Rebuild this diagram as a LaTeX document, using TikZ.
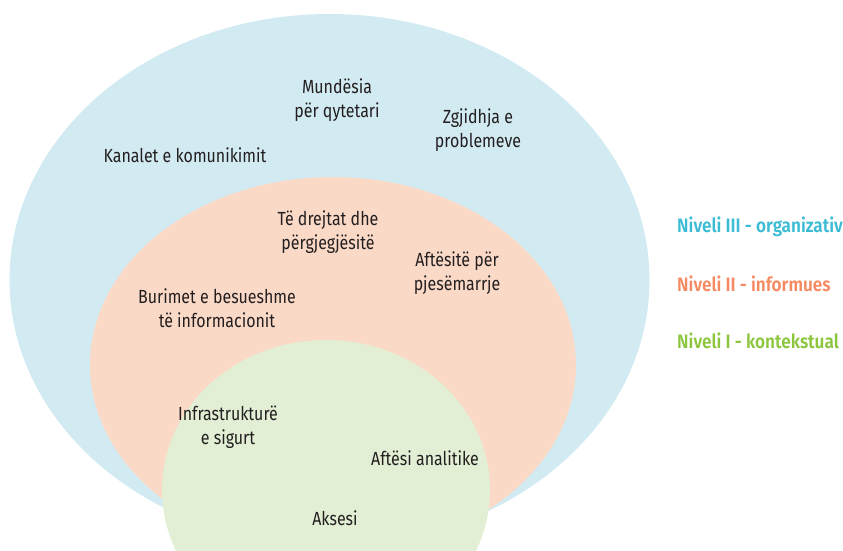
\documentclass[tikz,border=0pt]{standalone}
\usepackage{fontspec}
\setmainfont[FakeStretch=0.84]{Fira Sans}
\newfontfamily\lblfont[FakeStretch=0.88]{Fira Sans SemiBold}
\definecolor{blueF}{HTML}{D2EBF2}
\definecolor{pinkF}{HTML}{FBD9C7}
\definecolor{greenF}{HTML}{E2EFD5}
\definecolor{blueT}{HTML}{3BBCD4}
\definecolor{pinkT}{HTML}{F58A62}
\definecolor{greenT}{HTML}{8CC63F}
\definecolor{txt}{HTML}{231F20}
\tikzset{
  itm/.style={align=center, text=txt, font=\fontsize{19}{24}\selectfont, inner sep=0pt},
  lvl/.style={anchor=west, font=\lblfont\fontsize{19.5}{22}\selectfont, inner sep=0pt}
}
\begin{document}
\begin{tikzpicture}[x=1pt,y=-1pt]
\useasboundingbox (0,0) rectangle (843,550);
\begin{scope}
\clip (0,0) rectangle (843,550);
\fill[blueF] (329.5,280) ellipse [x radius=320, y radius=266];
\fill[pinkF] (333,365) ellipse [x radius=243, y radius=188];
\fill[greenF] (326,490) ellipse [x radius=164, y radius=150];
\end{scope}
\node[itm] (mun) at (337,100) {Mundësia\\për qytetari};
\node[itm] (zgj) at (478,130) {Zgjidhja e\\problemeve};
\node[itm] (kan) at (185,155) {Kanalet e komunikimit};
\node[itm] (tdr) at (328,232) {Të drejtat dhe\\përgjegjësitë};
\node[itm] (aft) at (457,273) {Aftësitë për\\pjesëmarrje};
\node[itm] (bur) at (217,308) {Burimet e besueshme\\të informacionit};
\node[itm] (inf) at (228,427) {Infrastrukturë\\e sigurt};
\node[itm] (ana) at (425,458) {Aftësi analitike};
\node[itm] (aks) at (335,518) {Aksesi};
\node[lvl, text=blueT] (l3) at (677,227) {Niveli III - organizativ};
\node[lvl, text=pinkT] (l2) at (677,284) {Niveli II - informues};
\node[lvl, text=greenT] (l1) at (677,341) {Niveli I - kontekstual};
\end{tikzpicture}
\end{document}
